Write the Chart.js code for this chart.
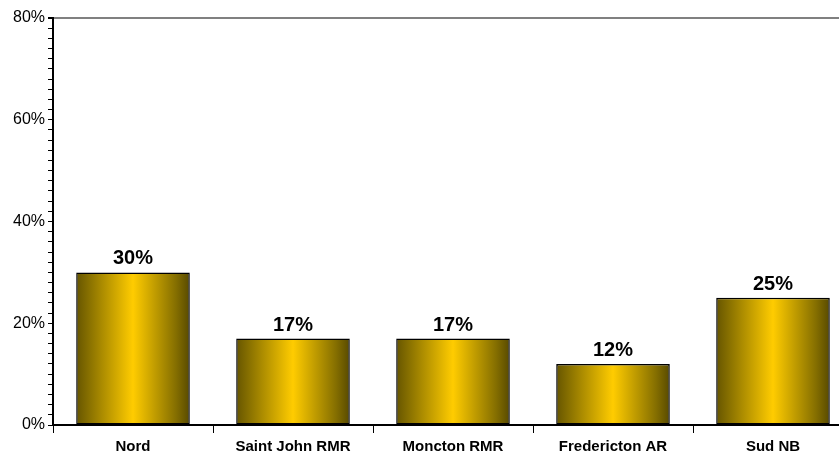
<!DOCTYPE html>
<html>
<head>
<meta charset="utf-8">
<script src="https://cdn.jsdelivr.net/npm/chart.js@4.4.1/dist/chart.umd.min.js"></script>
<style>
    html, body { margin: 0; padding: 0; background: #fff; overflow: hidden; }
    #wrap { width: 870px; height: 458px; }
</style>
</head>
<body>
<div id="wrap"><canvas id="chart" width="870" height="458"></canvas></div>
<script>
const categories = ["Nord", "Saint John RMR", "Moncton RMR", "Fredericton AR", "Sud NB"];
const values = [30, 17, 17, 12, 25];
const yTicks = [0, 20, 40, 60, 80];

const BAR_PCT = 0.71;
const FONT = "'Liberation Sans', Arial, sans-serif";

// degrade horizontal par barre
function barGradient(context) {
    const chart = context.chart;
    if (!chart.chartArea) return "#ffcc00";
    const x = chart.scales.x;
    const center = x.getPixelForValue(context.dataIndex);
    const half = (x.width / categories.length) * BAR_PCT / 2;
    const g = chart.ctx.createLinearGradient(center - half, 0, center + half, 0);
    g.addColorStop(0, "#665500");
    g.addColorStop(0.12, "#8a7200");
    g.addColorStop(0.5, "#ffcc00");
    g.addColorStop(0.88, "#846e00");
    g.addColorStop(1, "#584a00");
    return g;
}

const valueLabels = {
    id: "valueLabels",
    afterDatasetsDraw(chart) {
        const ctx = chart.ctx;
        const meta = chart.getDatasetMeta(0);
        ctx.save();
        ctx.font = "bold 20px " + FONT;
        ctx.fillStyle = "#000";
        ctx.textAlign = "center";
        ctx.textBaseline = "alphabetic";
        meta.data.forEach(function (bar, i) {
            ctx.fillText(values[i] + "%", bar.x, bar.y - 8);
        });
        ctx.restore();
    }
};

new Chart(document.getElementById("chart"), {
    type: "bar",
    data: {
        labels: categories,
        datasets: [{
            data: values,
            backgroundColor: barGradient,
            borderColor: "#000",
            borderWidth: 1.5,
            borderSkipped: false,
            barPercentage: BAR_PCT,
            categoryPercentage: 1
        }]
    },
    options: {
        responsive: false,
        animation: false,
        layout: { padding: { top: 18, right: 17, left: 0, bottom: 0 } },
        plugins: {
            legend: { display: false },
            tooltip: { enabled: false }
        },
        scales: {
            x: {
                afterFit: function (s) { s.height = 33; },
                grid: {
                    offset: true,
                    drawOnChartArea: false,
                    tickLength: 8,
                    tickColor: "#000",
                    lineWidth: 1
                },
                border: { color: "#000", width: 2 },
                ticks: {
                    color: "#000",
                    padding: 5,
                    maxRotation: 0,
                    font: { family: FONT, size: 15, weight: "bold" }
                }
            },
            y: {
                min: 0,
                max: 80,
                afterFit: function (s) { s.width = 53; },
                afterBuildTicks: function (s) {
                    const t = [];
                    for (let v = 0; v <= 80; v += 2) t.push({ value: v });
                    s.ticks = t;
                },
                grid: {
                    drawOnChartArea: true,
                    tickLength: 5,
                    tickColor: "#000",
                    color: function (c) { return c.tick && c.tick.value === 80 ? "#808080" : "transparent"; },
                    lineWidth: function (c) { return c.tick && c.tick.value === 80 ? 2 : 1; }
                },
                border: { color: "#000", width: 2 },
                ticks: {
                    color: "#000",
                    padding: 3,
                    autoSkip: false,
                    font: { family: FONT, size: 16 },
                    callback: function (v) { return yTicks.includes(v) ? v + "%" : ""; }
                }
            }
        }
    },
    plugins: [valueLabels]
});
</script>
</body>
</html>
